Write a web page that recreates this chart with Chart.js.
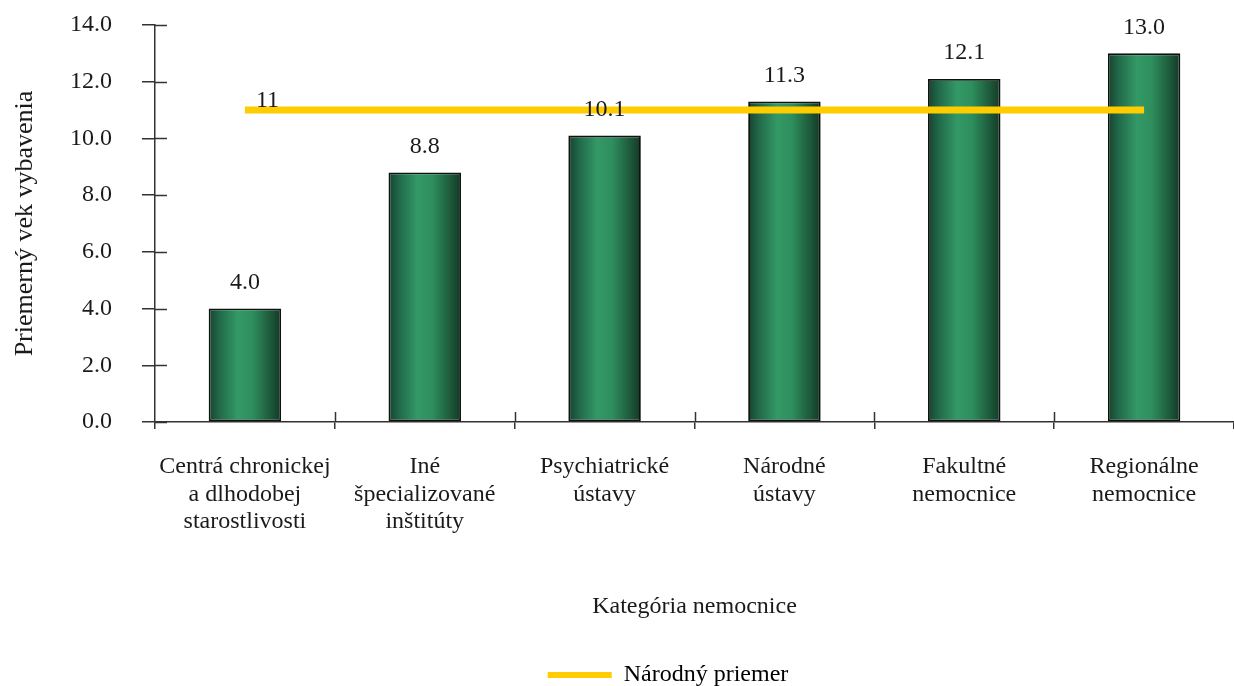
<!DOCTYPE html>
<html>
<head>
<meta charset="utf-8">
<script src="https://cdn.jsdelivr.net/npm/chart.js@4"></script>
<style>
html,body{margin:0;padding:0;background:#fff;}
#wrap{width:1234px;height:686px;position:relative;}
</style>
</head>
<body>
<div id="wrap"><canvas id="c" width="1234" height="686"></canvas></div>
<script>
const categories = [
  ["Centrá chronickej","a dlhodobej","starostlivosti"],
  ["Iné","špecializované","inštitúty"],
  ["Psychiatrické","ústavy"],
  ["Národné","ústavy"],
  ["Fakultné","nemocnice"],
  ["Regionálne","nemocnice"]
];
const ageValues = [4.0, 8.8, 10.1, 11.3, 12.1, 13.0];
const nationalAverage = [11, 11, 11, 11, 11, 11];
const yTicks = [0, 2, 4, 6, 8, 10, 12, 14];

const FONT = "'Liberation Serif', 'Times New Roman', serif";
const TXT = '#1a1a1a';
const AX = '#333333';
const FS = 24;

function barGradient(ctx) {
  const chart = ctx.chart;
  const xs = chart.scales.x;
  if (!xs || ctx.type !== 'data') return '#2a8050';
  const cx = xs.getPixelForValue(ctx.dataIndex);
  const w = (xs.width / categories.length) * 0.403;
  const g = chart.ctx.createLinearGradient(cx - w / 2, 0, cx + w / 2, 0);
  g.addColorStop(0, '#17432d');
  g.addColorStop(0.15, '#21694a');
  g.addColorStop(0.4, '#339966');
  g.addColorStop(0.6, '#2e8f5e');
  g.addColorStop(0.85, '#1d5a3b');
  g.addColorStop(1, '#133825');
  return g;
}

const labelsPlugin = {
  id: 'labelsPlugin',
  afterLayout(chart) {
    const lg = chart.legend;
    if (lg) {
      lg.left += 43; lg.right += 43;
      lg.top += 11; lg.bottom += 11;
    }
  },
  afterDatasetsDraw(chart) {
    const c = chart.ctx;
    c.save();
    c.font = FS + 'px ' + FONT;
    c.fillStyle = TXT;
    const barMeta = chart.getDatasetMeta(0);
    c.textAlign = 'center';
    c.textBaseline = 'middle';
    barMeta.data.forEach((el, i) => {
      c.fillText(ageValues[i].toFixed(1), el.x, el.y - 26);
    });
    const lineMeta = chart.getDatasetMeta(1);
    const p0 = lineMeta.data[0];
    c.textAlign = 'left';
    c.textBaseline = 'alphabetic';
    c.fillText(String(nationalAverage[0]), p0.x + 11, p0.y - 3);
    c.restore();
  },
  afterDraw(chart) {
    const c = chart.ctx;
    const ys = chart.scales.y, xs = chart.scales.x;
    c.save();
    c.strokeStyle = AX;
    c.lineWidth = 1.5;
    c.beginPath();
    ys.ticks.forEach(t => {
      const y = Math.round(ys.getPixelForValue(t.value)) + 0.5;
      c.moveTo(ys.right, y);
      c.lineTo(ys.right + 12, y);
    });
    const cw = xs.width / categories.length;
    for (let i = 1; i < categories.length; i++) {
      const x = Math.round(xs.left + i * cw) + 0.5;
      c.moveTo(x, xs.top - 10);
      c.lineTo(x, xs.top);
    }
    c.stroke();
    c.restore();
  }
};

new Chart(document.getElementById('c'), {
  type: 'bar',
  data: {
    labels: categories,
    datasets: [
      {
        type: 'bar',
        label: 'Priemerný vek vybavenia',
        data: ageValues,
        backgroundColor: barGradient,
        borderColor: '#111111',
        borderWidth: 1.8,
        borderSkipped: false,
        categoryPercentage: 1,
        barPercentage: 0.403,
        order: 2
      },
      {
        type: 'line',
        label: 'Národný priemer',
        data: nationalAverage,
        borderColor: '#ffcc00',
        backgroundColor: '#ffcc00',
        borderWidth: 7,
        borderCapStyle: 'butt',
        pointRadius: 0,
        pointHoverRadius: 0,
        fill: false,
        order: 1
      }
    ]
  },
  options: {
    responsive: false,
    animation: false,
    events: [],
    layout: { padding: { top: 25, left: 10, right: -6, bottom: 0 } },
    plugins: {
      tooltip: { enabled: false },
      legend: {
        position: 'bottom',
        labels: {
          font: { family: FONT, size: FS },
          color: TXT,
          boxWidth: 64,
          boxHeight: 6,
          padding: 0,
          generateLabels: () => [{
            text: 'Národný priemer',
            fillStyle: '#ffcc00',
            strokeStyle: '#ffcc00',
            lineWidth: 0,
            hidden: false,
            datasetIndex: 1
          }]
        }
      }
    },
    scales: {
      x: {
        offset: true,
        grid: { offset: true, drawOnChartArea: false, color: AX, lineWidth: 1.5, tickLength: 7 },
        border: { color: AX, width: 1.5 },
        ticks: {
          font: { family: FONT, size: FS, lineHeight: 1.15 },
          color: TXT,
          padding: 24,
          maxRotation: 0,
          autoSkip: false
        },
        title: {
          display: true,
          text: 'Kategória nemocnice',
          font: { family: FONT, size: FS },
          color: TXT,
          padding: { top: 0, bottom: 31 }
        },
        afterFit: s => {
          const lh = s.chart.legend ? s.chart.legend.height : 30;
          s.height = 686 - 422 - lh;
        }
      },
      y: {
        min: 0,
        max: 14,
        afterBuildTicks: s => { s.ticks = yTicks.map(v => ({ value: v })); },
        grid: { drawOnChartArea: false, color: AX, lineWidth: 1.5, tickLength: 13 },
        border: { color: AX, width: 1.5 },
        ticks: {
          font: { family: FONT, size: FS },
          color: TXT,
          padding: 30,
          callback: v => Number(v).toFixed(1)
        },
        title: {
          display: true,
          text: 'Priemerný vek vybavenia',
          font: { family: FONT, size: 26 },
          color: TXT,
          padding: { top: 0, bottom: 0 }
        },
        afterFit: s => { s.width = 145; s.paddingTop = 14; }
      }
    }
  },
  plugins: [labelsPlugin]
});
</script>
</body>
</html>
